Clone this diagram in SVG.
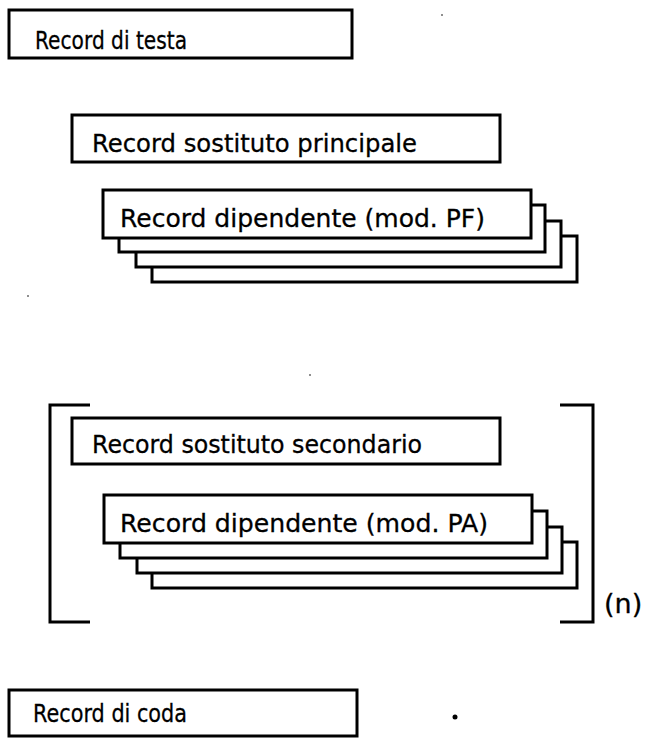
<svg xmlns="http://www.w3.org/2000/svg" width="650" height="739" viewBox="0 0 650 739">
<style>
.box{fill:#fff;stroke:#000;stroke-width:3}
.br{fill:none;stroke:#000;stroke-width:3}
.t{font-family:"DejaVu Sans","Liberation Sans",sans-serif;font-size:24px;fill:#000;stroke:#000;stroke-width:0.3}
</style>
<rect width="650" height="739" fill="#fff"/>
<g id="testa">
<rect class="box" x="9" y="10" width="343" height="48"/>
<text class="t" x="35" y="49" textLength="152" lengthAdjust="spacingAndGlyphs">Record di testa</text>
</g>
<g id="principale">
<rect class="box" x="72" y="115" width="428" height="47"/>
<text class="t" x="92" y="152" textLength="325" lengthAdjust="spacingAndGlyphs">Record sostituto principale</text>
</g>
<g id="dipendente-pf">
<rect class="box" x="152" y="236" width="425" height="46"/>
<rect class="box" x="136" y="221" width="425" height="46"/>
<rect class="box" x="119" y="205" width="426" height="47"/>
<rect class="box" x="103" y="190" width="428" height="48"/>
<text class="t" x="120" y="227" textLength="365" lengthAdjust="spacingAndGlyphs">Record dipendente (mod. PF)</text>
</g>
<g id="parentesi">
<path class="br" d="M90,405 H50 V622 H90"/>
<path class="br" d="M560,405 H593 V622 H560"/>
<text class="t" x="604" y="613" style="font-size:27px">(n)</text>
</g>
<g id="secondario">
<rect class="box" x="72" y="418" width="428" height="46"/>
<text class="t" x="92" y="453" textLength="330" lengthAdjust="spacingAndGlyphs">Record sostituto secondario</text>
</g>
<g id="dipendente-pa">
<rect class="box" x="152" y="542" width="425" height="46"/>
<rect class="box" x="137" y="527" width="425" height="46"/>
<rect class="box" x="120" y="511" width="427" height="47"/>
<rect class="box" x="104" y="495" width="428" height="48"/>
<text class="t" x="120" y="532" textLength="368" lengthAdjust="spacingAndGlyphs">Record dipendente (mod. PA)</text>
</g>
<g id="coda">
<rect class="box" x="9" y="690" width="348" height="46"/>
<text class="t" x="33" y="722" textLength="154" lengthAdjust="spacingAndGlyphs">Record di coda</text>
</g>
<g id="connectors"/>
<g id="specks" fill="#000">
<circle cx="455" cy="717" r="2.5"/>
<circle cx="442" cy="15" r="0.8"/>
<circle cx="28" cy="296" r="0.8"/>
<circle cx="310" cy="375" r="0.8"/>
</g>
</svg>
